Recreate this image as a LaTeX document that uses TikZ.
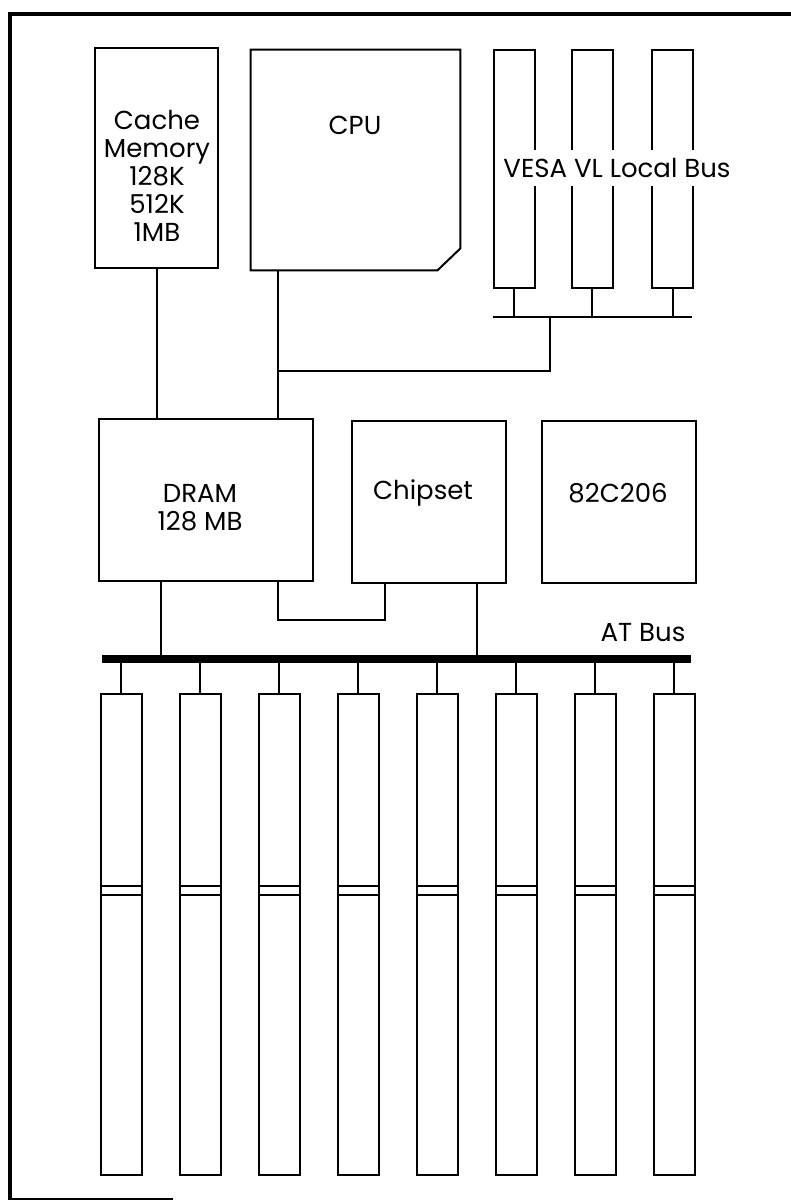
\documentclass[tikz,border=0pt]{standalone}
\usepackage{fontspec}
\setmainfont{Poppins}
\begin{document}
\begin{tikzpicture}[x=0.5pt,y=-0.5pt,
    box/.style={draw,line width=1pt,inner sep=0pt},
    slot/.style={draw,line width=1pt,inner sep=0pt,minimum width=20.5pt},
    wire/.style={line width=1pt},
    frame/.style={line width=2pt},
    atbus/.style={line width=4.2pt},
    txt/.style={font=\fontsize{13}{14}\selectfont,align=center,inner sep=1pt}]
    \useasboundingbox (0,0) rectangle (791,1200);
    % page frame
    \draw[frame] (791,14) -- (10,14) -- (10,1200);
    \draw[line width=0.6pt] (10,1199) -- (173,1199);
    % top row
    \node[box,minimum width=61.5pt,minimum height=110pt] (cache) at (156.5,158) {};
    \node[txt] (cachetxt) at (157,176) {Cache\\Memory\\128K\\512K\\1MB};
    \node[minimum width=104.5pt,minimum height=110pt,inner sep=0pt] (cpu) at (355.5,160) {};
    \draw[wire] (cpu.south west) -- (cpu.north west) -- (cpu.north east) -- ([yshift=11pt]cpu.south east) -- ([xshift=-11.5pt]cpu.south east) -- cycle;
    \node[txt] (cputxt) at (355,125) {CPU};
    \node[slot,minimum height=119pt] (vesa1) at (514,169) {};
    \node[slot,minimum height=119pt] (vesa2) at (592,169) {};
    \node[slot,minimum height=119pt] (vesa3) at (672.5,169) {};
    \node[txt,fill=white,inner ysep=4pt,inner xsep=0pt] (vesatxt) at (617,168) {VESA VL Local Bus};
    % local bus
    \coordinate (vlb-w) at (493,317);
    \coordinate (vlb-e) at (692,317);
    \coordinate (vlb-tap) at (550,317);
    \coordinate (cpuport) at (278,270);
    \coordinate (cpu-tee) at (278,371);
    \draw[wire] (vlb-w) -- (vlb-e);
    \foreach \s in {vesa1,vesa2,vesa3}
        \draw[wire] (\s.south) -- (\s.south |- vlb-w);
    \draw[wire] (vlb-tap) |- (cpu-tee);
    % middle row
    \node[box,minimum width=107pt,minimum height=81pt] (dram) at (206,500) {};
    \node[txt] (dramtxt) at (200,507.5) {DRAM\\128 MB};
    \node[box,minimum width=77pt,minimum height=81pt] (chipset) at (429,502) {};
    \node[txt] (chipsettxt) at (423,493) {Chipset};
    \node[box,minimum width=77pt,minimum height=81pt] (ioc) at (619,502) {};
    \node[txt] (ioctxt) at (618,493) {82C206};
    \draw[wire] (cache.south) -- (cache.south |- dram.north);
    \draw[wire] (cpuport) -- (cpuport |- dram.north);
    \draw[wire] (dram.south -| cpuport) -- ++(0,38) -| (chipset.south -| 385,0);
    % AT bus
    \coordinate (atb-w) at (102,659);
    \coordinate (atb-e) at (691,659);
    \draw[atbus] (atb-w) -- (atb-e);
    \node[txt,anchor=center] (attxt) at (643,633) {AT Bus};
    \draw[wire] (dram.south -| 161,0) -- (161,659);
    \draw[wire] (chipset.south -| 477,0) -- (477,659);
    \foreach \i in {1,...,8} {
        \node[slot,minimum height=240.5pt] (isa\i) at ({121+(\i-1)*79},934.5) {};
        \draw[wire] (isa\i.north) -- (isa\i.north |- atb-w);
        \draw[wire] (isa\i.west |- 0,886) -- (isa\i.east |- 0,886);
        \draw[wire] (isa\i.west |- 0,895) -- (isa\i.east |- 0,895);
    }
\end{tikzpicture}
\end{document}
